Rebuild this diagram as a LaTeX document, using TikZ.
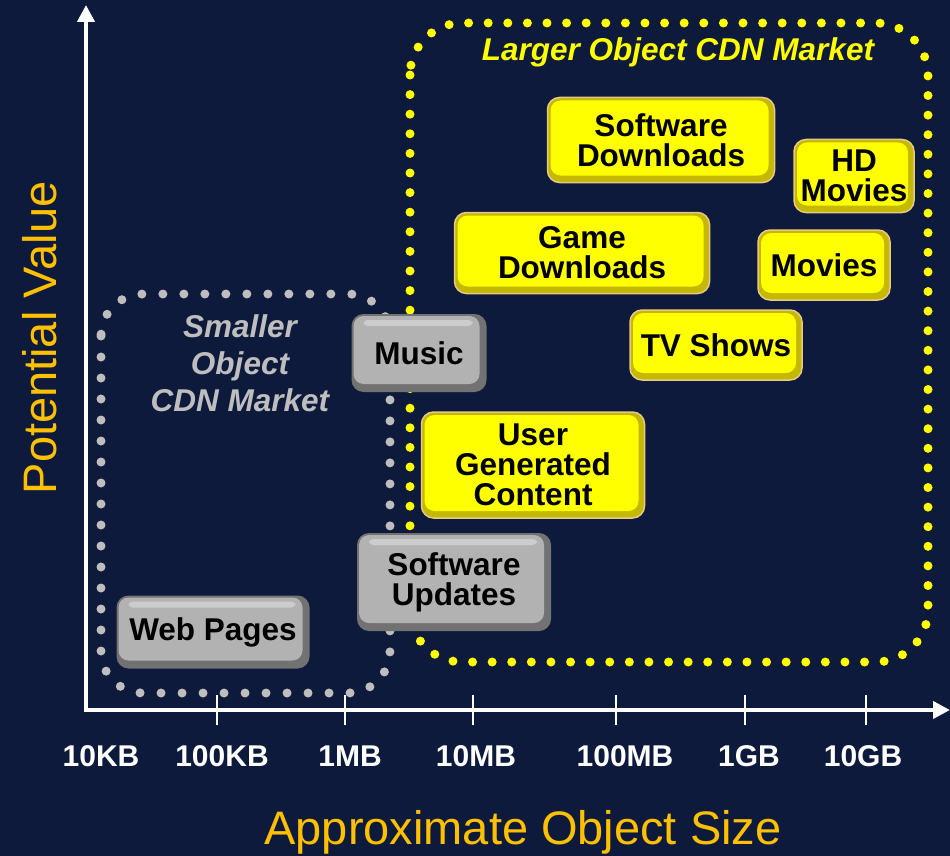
\documentclass[tikz,border=0pt]{standalone}
\usepackage{fontspec}
\setmainfont{Liberation Sans}
\usepackage{xcolor}
\usepackage{tikz}
\usetikzlibrary{arrows.meta}
\definecolor{navy}{HTML}{0E1A3C}
\definecolor{ydot}{HTML}{FFFF00}
\definecolor{gdot}{HTML}{BEBEBE}
\definecolor{axisorange}{HTML}{FFC000}
\definecolor{yface}{HTML}{FFFF00}
\definecolor{yedge}{HTML}{C4B800}
\definecolor{yrim}{HTML}{E6C98A}
\definecolor{gface}{HTML}{B2B2B2}
\definecolor{gedge}{HTML}{727272}

\begin{document}
\begin{tikzpicture}[x=1pt,y=-1pt,
  axis/.style={white,line width=4pt,-{Triangle[length=17pt,width=17pt]}},
  tick/.style={white,line width=2pt},
  ticklabel/.style={white,font=\fontsize{30}{30}\selectfont\bfseries},
  axistitle/.style={axisorange,font=\fontsize{47}{47}\selectfont},
  ydots/.style={ydot,line width=9pt,line cap=round,dash pattern=on 0pt off 19.6pt,rounded corners=52pt},
  gdots/.style={gdot,line width=9pt,line cap=round,dash pattern=on 0pt off 21pt,rounded corners=42pt},
  tile/.style={rounded corners=12pt,inner sep=0pt,align=center,text=black,
    font=\fontsize{31.5}{30}\selectfont\bfseries},
  ytile/.style={tile,fill=yedge,draw=yrim,line width=1.5pt,
    path picture={\fill[yface,rounded corners=10pt]
      ([shift={(3pt,-3pt)}]path picture bounding box.north west) rectangle
      ([shift={(-6pt,7pt)}]path picture bounding box.south east);}},
  gtile/.style={tile,fill=gedge,
    path picture={\fill[gface,rounded corners=10pt]
      ([shift={(2pt,-2pt)}]path picture bounding box.north west) rectangle
      ([shift={(-7pt,8pt)}]path picture bounding box.south east);
      \fill[white,opacity=.35,rounded corners=4pt]
      ([shift={(12pt,-6pt)}]path picture bounding box.north west) rectangle
      ([shift={(-14pt,-12pt)}]path picture bounding box.north east);}},
  market/.style={font=\fontsize{31.5}{37}\selectfont\bfseries\itshape,align=center}]

  \fill[navy] (0,0) rectangle (950,856);
  \useasboundingbox (0,0) rectangle (950,856);

  % dotted market regions
  \draw[gdots] (101,294) rectangle (390,693);
  \draw[ydots] (410,23) rectangle (928,662);
  \node[market,ydot] (larger) at (678,52) {Larger Object CDN Market};
  \node[market,gdot] (smaller) at (240,363) {Smaller\\Object\\CDN Market};

  % axes
  \coordinate (origin) at (86,710);
  \coordinate (ytop) at (86,5);
  \coordinate (xend) at (950,710);
  \draw[axis] ([yshift=-2pt]origin) -- (ytop);
  \draw[axis] (origin) -- (xend);
  \foreach \x in {217,345,473,616,745,866}
    \draw[tick] (\x,695) -- (\x,725);
  \foreach \x/\lbl in {101/10KB,222/100KB,350/1MB,476/10MB,625/100MB,749/1GB,863/10GB}
    \node[ticklabel] (lbl-\lbl) at (\x,756) {\lbl};
  \node[axistitle] (xtitle) at (523,832) {Approximate Object Size};
  \node[axistitle,rotate=90] (ytitle) at (40,338) {Potential Value};

  % content types
  \node[ytile,minimum width=227pt,minimum height=85pt] (swdl) at (661,140) {Software\\Downloads};
  \node[ytile,minimum width=120pt,minimum height=73pt] (hdmov) at (854,176) {HD\\Movies};
  \node[ytile,minimum width=255pt,minimum height=81pt] (gamedl) at (582,253) {Game\\Downloads};
  \node[ytile,minimum width=132pt,minimum height=70pt] (movies) at (824,265) {Movies};
  \node[ytile,minimum width=172pt,minimum height=70pt] (tvshows) at (716,345) {TV Shows};
  \node[ytile,minimum width=223pt,minimum height=106pt] (ugc) at (533,465) {User\\Generated\\Content};
  \node[gtile,minimum width=135pt,minimum height=78pt] (music) at (419,353) {Music};
  \node[gtile,minimum width=194pt,minimum height=98pt] (swupd) at (454,582) {Software\\Updates};
  \node[gtile,minimum width=193pt,minimum height=73pt] (webpages) at (213,632) {Web Pages};
\end{tikzpicture}
\end{document}
